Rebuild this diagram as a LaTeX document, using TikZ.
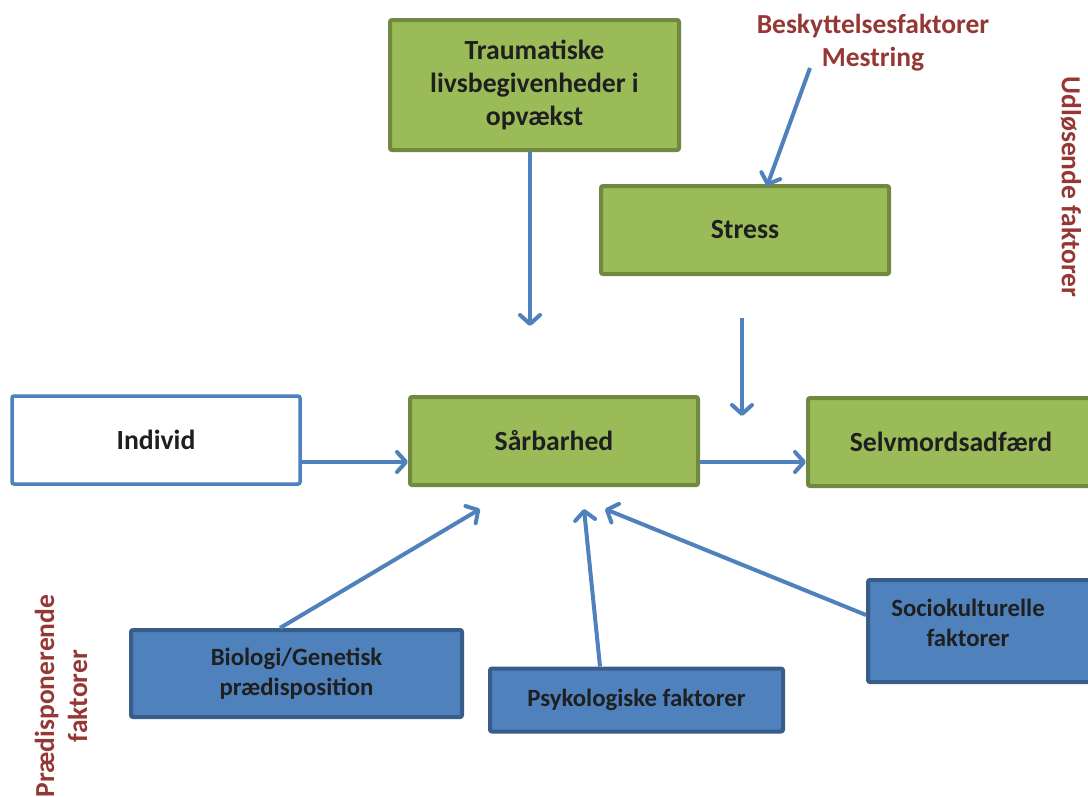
\documentclass[tikz,border=0pt]{standalone}
\usepackage{fontspec}
\setmainfont{Carlito}
\usetikzlibrary{arrows.meta}
\definecolor{gfill}{HTML}{9BBB59}
\definecolor{gline}{HTML}{71893F}
\definecolor{bfill}{HTML}{4F81BD}
\definecolor{bline}{HTML}{385D8A}
\definecolor{arrowc}{HTML}{4F81BD}
\definecolor{redtxt}{HTML}{953735}
\definecolor{boxtxt}{HTML}{1F1F1F}
\tikzset{
  greenbox/.style={draw=gline, fill=gfill, line width=4pt, rounded corners=2pt, inner sep=0pt, align=center, text=boxtxt, font=\bfseries\fontsize{27.7}{33}\selectfont},
  bluebox/.style={draw=bline, fill=bfill, line width=4pt, rounded corners=2pt, inner sep=0pt, align=center, text=boxtxt, font=\bfseries\fontsize{24.8}{29.5}\selectfont},
  whitebox/.style={draw=arrowc, fill=white, line width=3.5pt, rounded corners=2pt, inner sep=0pt, align=center, text=boxtxt, font=\bfseries\fontsize{27.7}{33}\selectfont},
  redlabel/.style={text=redtxt, align=center, inner sep=0pt, font=\bfseries\fontsize{27.5}{33}\selectfont},
  boxlabel/.style={text=boxtxt, align=center, inner sep=0pt, font=\bfseries\fontsize{24.8}{29.5}\selectfont},
  conn/.style={draw=arrowc, line width=4pt, -{Straight Barb[length=9pt,width=20pt,line cap=round,line join=round]}},
}
\begin{document}
\begin{tikzpicture}[x=1pt,y=-1pt]
\useasboundingbox (0,0) rectangle (1088,796);
\clip (0,0) rectangle (1088,796);
\fill[white] (0,0) rectangle (1088,796);

% boxes
\node[greenbox, minimum width=289pt, minimum height=130pt] (trauma) at (534.5,85) {Traumatiske\\livsbegivenheder i\\opvækst};
\node[greenbox, minimum width=288pt, minimum height=88pt] (stress) at (745,230) {Stress};
\node[whitebox, minimum width=288pt, minimum height=88pt] (indiv) at (156,440) {Individ};
\node[greenbox, minimum width=288pt, minimum height=88pt] (sar) at (554,441) {Sårbarhed};
\node[greenbox, minimum width=286pt, minimum height=88pt] (selv) at (951,442) {Selvmordsadfærd};
\node[bluebox, minimum width=331pt, minimum height=87pt] (bio) at (296.5,673.5) {Biologi/Genetisk\\prædisposition};
\node[bluebox, minimum width=293pt, minimum height=63pt] (psyk) at (636.5,700) {Psykologiske faktorer};
\node[bluebox, minimum width=230pt, minimum height=102pt] (socio) at (983,631) {};
\node[boxlabel] (sociotxt) at (968,623) {Sociokulturelle\\faktorer};

% red labels
\node[redlabel] (besk) at (873,43) {Beskyttelsesfaktorer\\Mestring};
\node[redlabel, rotate=-90] (udl) at (1071,187) {Udløsende faktorer};
\node[redlabel, rotate=90] (praed) at (61,696) {Prædisponerende\\faktorer};

% free ends
\coordinate (tEnd) at (530,326);
\coordinate (bStart) at (810,68);
\coordinate (bEnd) at (767,186);
\coordinate (sStart) at (742,318);
\coordinate (sEnd) at (742,416);
\coordinate (bioEnd) at (480,509);
\coordinate (psykEnd) at (584,509);
\coordinate (socEnd) at (605,509);

% connectors
\draw[conn] (trauma.south -| tEnd) -- (tEnd);
\draw[conn] (bStart) -- (bEnd);
\draw[conn] (sStart) -- (sEnd);
\draw[conn] (indiv.east |- 0,462) -- (sar.west |- 0,462);
\draw[conn] (sar.east |- 0,462) -- (selv.west |- 0,462);
\draw[conn] (bio.north -| 280,0) -- (bioEnd);
\draw[conn] (psyk.north -| 600,0) -- (psykEnd);
\draw[conn] (socio.west |- 0,615) -- (socEnd);
\end{tikzpicture}
\end{document}
